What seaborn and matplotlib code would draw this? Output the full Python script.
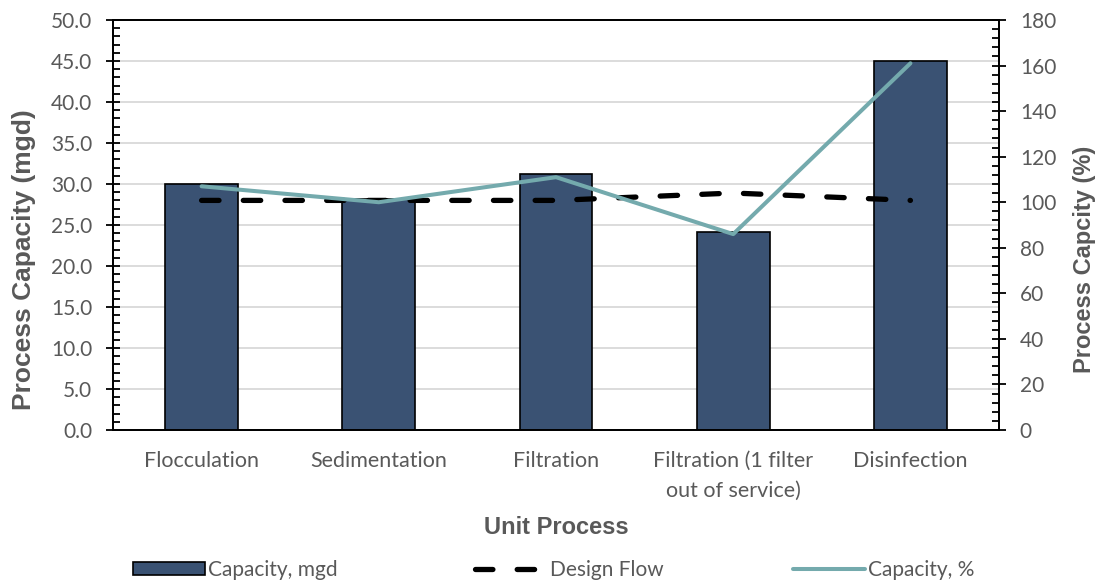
import numpy as np
import pandas as pd
import matplotlib
matplotlib.use("Agg")
import matplotlib.pyplot as plt
import seaborn as sns
from matplotlib.ticker import MultipleLocator, FormatStrFormatter
from matplotlib.patches import Patch
from matplotlib.lines import Line2D

# Unit process capacities
categories = ["Flocculation", "Sedimentation", "Filtration",
              "Filtration (1 filter\nout of service)", "Disinfection"]
capacity_mgd = [30.0, 28.2, 31.2, 24.2, 45.0]
design_flow_mgd = [28.0, 28.0, 28.0, 28.9, 28.0]
capacity_pct = [107, 100, 111, 86, 161]
legend_labels = ["Capacity, mgd", "Design Flow", "Capacity, %"]

df = pd.DataFrame({
    "process": categories,
    "pos": np.arange(len(categories)),
    "capacity_mgd": capacity_mgd,
    "design_flow": design_flow_mgd,
    "capacity_pct": capacity_pct,
})

sns.set_theme(style="white")
plt.rcParams["font.family"] = ["Lato", "DejaVu Sans"]

GREY = "#595959"
BAR = "#3A5273"
TEAL = "#74AAAD"

fig = plt.figure(figsize=(10.97, 5.82), dpi=100)
ax = fig.add_axes([0.103, 0.2612, 0.8077, 0.7044])

sns.barplot(data=df, x="process", y="capacity_mgd", ax=ax, color=BAR,
            edgecolor="black", linewidth=1.2, width=0.41, saturation=1)
sns.lineplot(data=df, x="pos", y="design_flow", ax=ax, color="black",
             linewidth=3.8, legend=False)
dash_line = ax.lines[-1]
dash_line.set_dashes((3.3, 4.6))
dash_line.set_dash_capstyle("round")

ax2 = ax.twinx()
sns.lineplot(data=df, x="pos", y="capacity_pct", ax=ax2, color=TEAL,
             linewidth=2.9, legend=False)

ax.set_xlim(-0.5, len(categories) - 0.5)
ax.set_ylim(0, 50)
ax2.set_ylim(0, 180)

ax.yaxis.set_major_locator(MultipleLocator(5))
ax.yaxis.set_minor_locator(MultipleLocator(1))
ax.yaxis.set_major_formatter(FormatStrFormatter("%.1f"))
ax2.yaxis.set_major_locator(MultipleLocator(20))
ax2.yaxis.set_minor_locator(MultipleLocator(4))

ax.set_axisbelow(True)
ax.grid(axis="y", which="major", color="#D9D9D9", linewidth=1.3)
ax.grid(axis="x", visible=False)
ax2.grid(False)

for a in (ax, ax2):
    for s in a.spines.values():
        s.set_color("black")
        s.set_linewidth(1.3)
        s.set_visible(True)

ax.tick_params(axis="y", which="major", direction="inout", length=10,
               width=1.3, color="black", labelsize=15, labelcolor=GREY, pad=10, left=True)
ax.tick_params(axis="y", which="minor", direction="in", length=5,
               width=1.3, color="black", left=True)
ax2.tick_params(axis="y", which="major", direction="inout", length=10,
                width=1.3, color="black", labelsize=15, labelcolor=GREY, pad=10, right=True)
ax2.tick_params(axis="y", which="minor", direction="in", length=5,
                width=1.3, color="black", right=True)
ax.tick_params(axis="x", which="both", length=0, labelsize=15.5,
               labelcolor=GREY, pad=15)
for lbl in ax.get_xticklabels():
    lbl.set_linespacing(1.6)
    lbl.set_verticalalignment("top")

label_font = dict(family=["Liberation Sans", "DejaVu Sans"], weight="bold", color=GREY)
ax.set_xlabel("Unit Process", fontsize=17, **label_font, labelpad=11)
ax.set_ylabel("Process Capacity (mgd)", fontsize=19, va="center", **label_font)
ax2.set_ylabel("Process Capcity (%)", fontsize=17, va="center", **label_font)
ax.yaxis.set_label_coords(-0.1, 0.415)
ax2.yaxis.set_label_coords(1.096, 0.417)

# Legend entries laid out along the bottom edge
handles = [
    Patch(facecolor=BAR, edgecolor="black", linewidth=1.2),
    Line2D([], [], color="black", linewidth=3.8, dashes=(3.3, 4.6),
           dash_capstyle="round"),
    Line2D([], [], color=TEAL, linewidth=2.9),
]
anchors = [0.1212, 0.433, 0.7229]
for h, lab, xa in zip(handles, legend_labels, anchors):
    leg = fig.legend([h], [lab], loc="center left", bbox_to_anchor=(xa, 0.021),
                     frameon=False, fontsize=15, handlelength=3.45,
                     handleheight=0.62, handletextpad=0.15, borderpad=0,
                     borderaxespad=0)
    for t in leg.get_texts():
        t.set_color(GREY)

fig.savefig("out.png", dpi=100)
